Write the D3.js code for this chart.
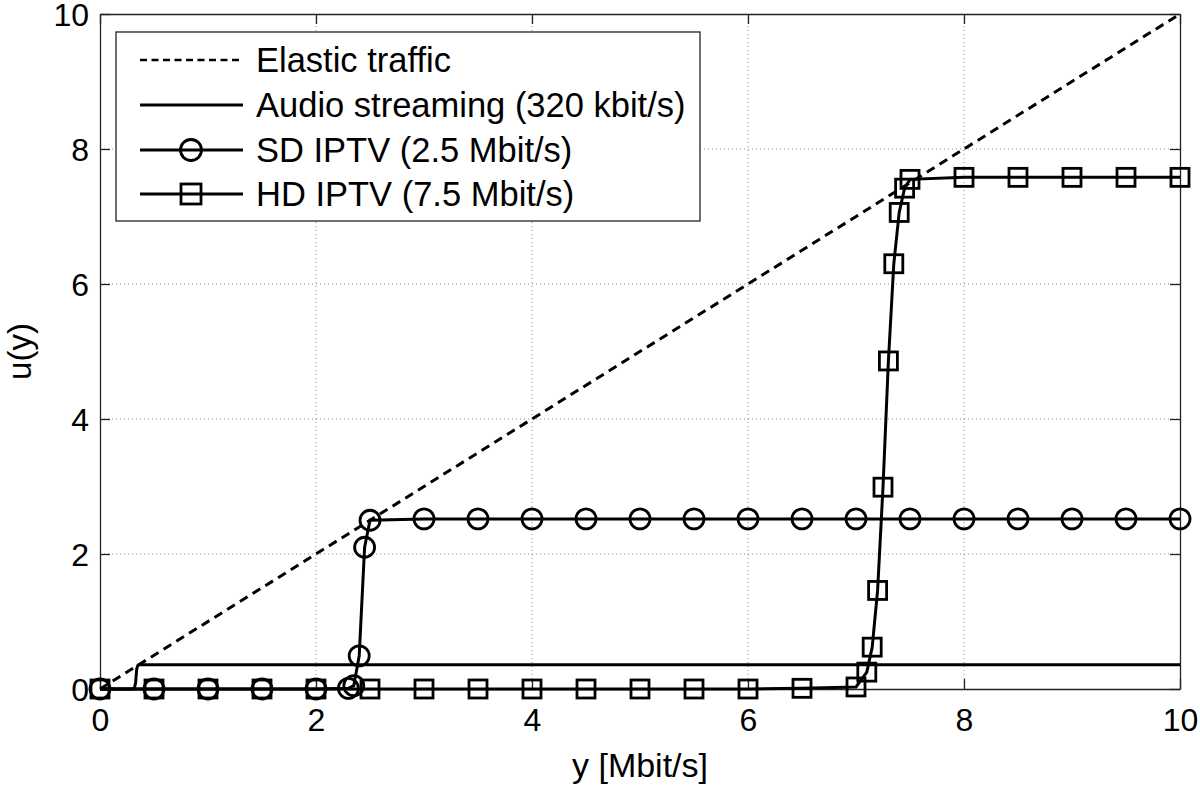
<!DOCTYPE html>
<html>
<head>
<meta charset="utf-8">
<script src="https://cdn.jsdelivr.net/npm/d3@7"></script>
<style>
  html, body { margin: 0; padding: 0; background: #fff; }
  svg { display: block; font-family: "Liberation Sans", Arial, sans-serif; }
</style>
</head>
<body>
<svg id="chart" width="1200" height="785"></svg>
<script>
// ---- data ----
const xTicks = [0, 2, 4, 6, 8, 10];
const yTicks = [0, 2, 4, 6, 8, 10];

const elasticX = [0, 10];
const elasticU = [0, 10];

const audioX = [0, 0.30, 0.32, 0.33, 0.34, 0.35, 0.36, 10];
const audioU = [0, 0, 0.02, 0.10, 0.30, 0.35, 0.36, 0.36];

const sdX = [0, 0.5, 1, 1.5, 2, 2.3, 2.35, 2.4, 2.45, 2.5, 3, 3.5, 4, 4.5, 5, 5.5, 6, 6.5, 7, 7.5, 8, 8.5, 9, 9.5, 10];
const sdU = [0, 0, 0, 0, 0, 0.01, 0.05, 0.49, 2.10, 2.50, 2.52, 2.52, 2.52, 2.52, 2.52, 2.52, 2.52, 2.52, 2.52, 2.52, 2.52, 2.52, 2.52, 2.52, 2.52];

const hdX = [0, 0.5, 1, 1.5, 2, 2.5, 3, 3.5, 4, 4.5, 5, 5.5, 6, 6.5, 7, 7.1, 7.15, 7.2, 7.25, 7.3, 7.35, 7.4, 7.45, 7.5, 8, 8.5, 9, 9.5, 10];
const hdU = [0, 0, 0, 0, 0, 0, 0, 0, 0, 0, 0, 0, 0, 0.01, 0.03, 0.25, 0.62, 1.46, 2.99, 4.86, 6.30, 7.06, 7.42, 7.55, 7.58, 7.58, 7.58, 7.58, 7.58];

const legendLabels = ["Elastic traffic", "Audio streaming (320 kbit/s)", "SD IPTV (2.5 Mbit/s)", "HD IPTV (7.5 Mbit/s)"];
const xLabel = "y [Mbit/s]";
const yLabel = "u(y)";

// ---- layout ----
const L = 100, R = 1180, T = 14, B = 689;
const svg = d3.select("#chart");
const x = d3.scaleLinear().domain([0, 10]).range([L, R]);
const y = d3.scaleLinear().domain([0, 10]).range([B, T]);

const zip = (xs, us) => xs.map((v, i) => [v, us[i]]);
const line = d3.line().x(d => x(d[0])).y(d => y(d[1]));

// grid
const grid = svg.append("g").attr("stroke", "#8a8a8a").attr("stroke-width", 1).attr("stroke-dasharray", "1,3");
xTicks.slice(1, -1).forEach(t => grid.append("line").attr("x1", x(t)).attr("x2", x(t)).attr("y1", T).attr("y2", B));
yTicks.slice(1, -1).forEach(t => grid.append("line").attr("y1", y(t)).attr("y2", y(t)).attr("x1", L).attr("x2", R));

// axes (inward ticks, box)
const tickLen = 10;
const axB = svg.append("g").attr("transform", `translate(0,${B})`).call(d3.axisBottom(x).tickValues(xTicks).tickSizeInner(-tickLen).tickSizeOuter(0).tickPadding(20));
const axT = svg.append("g").attr("transform", `translate(0,${T})`).call(d3.axisTop(x).tickValues(xTicks).tickSizeInner(-tickLen).tickSizeOuter(0).tickFormat(""));
const axL = svg.append("g").attr("transform", `translate(${L},0)`).call(d3.axisLeft(y).tickValues(yTicks).tickSizeInner(-tickLen).tickSizeOuter(0).tickPadding(11));
const axR = svg.append("g").attr("transform", `translate(${R},0)`).call(d3.axisRight(y).tickValues(yTicks).tickSizeInner(-tickLen).tickSizeOuter(0).tickFormat(""));
[axB, axT, axL, axR].forEach(a => {
  a.selectAll("path.domain").attr("stroke", "#222").attr("stroke-width", 1.3);
  a.selectAll(".tick line").attr("stroke", "#222").attr("stroke-width", 1.3);
  a.selectAll(".tick text").attr("fill", "#000").style("font-size", "32px").style("font-family", "'Liberation Sans', Arial, sans-serif");
});
axB.selectAll(".tick text").attr("dy", "0.71em").attr("y", 19);
axL.selectAll(".tick text").attr("dy", "0.36em");

// series
const lw = 3;
svg.append("path").datum(zip(elasticX, elasticU)).attr("d", line).attr("fill", "none").attr("stroke", "#000").attr("stroke-width", lw).attr("stroke-dasharray", "9,6");
svg.append("path").datum(zip(audioX, audioU)).attr("d", line).attr("fill", "none").attr("stroke", "#000").attr("stroke-width", lw);
const sd = zip(sdX, sdU);
svg.append("path").datum(sd).attr("d", line).attr("fill", "none").attr("stroke", "#000").attr("stroke-width", lw);
svg.append("g").selectAll("circle").data(sd).join("circle")
  .attr("cx", d => x(d[0])).attr("cy", d => y(d[1])).attr("r", 10)
  .attr("fill", "none").attr("stroke", "#000").attr("stroke-width", 2.8);
const hd = zip(hdX, hdU);
svg.append("path").datum(hd).attr("d", line).attr("fill", "none").attr("stroke", "#000").attr("stroke-width", lw);
const sq = 18;
svg.append("g").selectAll("rect").data(hd).join("rect")
  .attr("x", d => x(d[0]) - sq / 2).attr("y", d => y(d[1]) - sq / 2).attr("width", sq).attr("height", sq)
  .attr("fill", "none").attr("stroke", "#000").attr("stroke-width", 2.8);

// axis labels
svg.append("text").attr("x", (L + R) / 2).attr("y", 777).attr("text-anchor", "middle").style("font-size", "34px").text(xLabel);
svg.append("text").attr("transform", `translate(31,${(T + B) / 2}) rotate(-90)`).attr("text-anchor", "middle").style("font-size", "33px").text(yLabel);

// legend
const lg = svg.append("g");
lg.append("rect").attr("x", 116).attr("y", 32).attr("width", 584).attr("height", 189).attr("fill", "#fff").attr("stroke", "#222").attr("stroke-width", 1.3);
const rowsY = [60, 105, 150, 194];
legendLabels.forEach((lab, i) => {
  const ry = rowsY[i];
  const ln = lg.append("line").attr("x1", 140).attr("x2", 243).attr("y1", ry).attr("y2", ry).attr("stroke", "#000").attr("stroke-width", lw);
  if (i === 0) ln.attr("stroke-dasharray", "7,4.5").attr("stroke-width", 2.6);
  if (i === 2) lg.append("circle").attr("cx", 191).attr("cy", ry).attr("r", 10.5).attr("fill", "none").attr("stroke", "#000").attr("stroke-width", 2.8);
  if (i === 3) lg.append("rect").attr("x", 191 - 10).attr("y", ry - 10).attr("width", 20).attr("height", 20).attr("fill", "none").attr("stroke", "#000").attr("stroke-width", 2.8);
  lg.append("text").attr("x", 256).attr("y", ry).attr("dy", "0.36em").style("font-size", "34.5px").text(lab);
});
</script>
</body>
</html>
